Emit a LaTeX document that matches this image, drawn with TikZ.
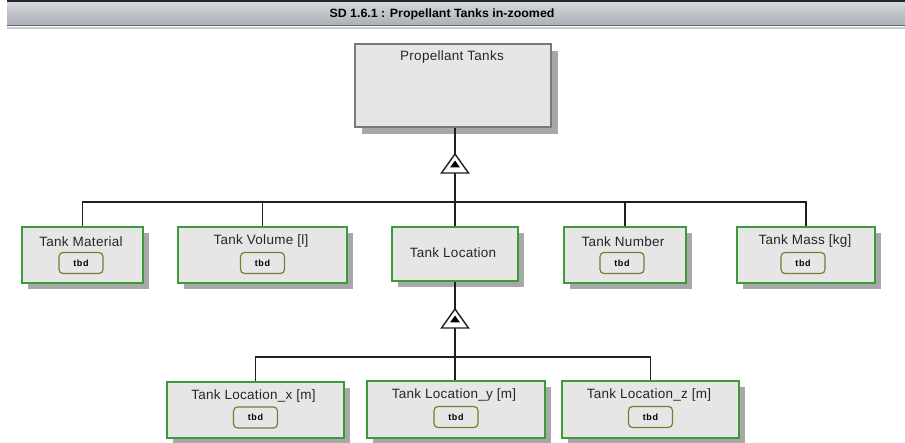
\documentclass[tikz,border=0pt]{standalone}
\usepackage{fontspec}
\setmainfont{Liberation Sans}
\usetikzlibrary{shadows}
\definecolor{boxfill}{HTML}{E6E6E6}
\definecolor{objgreen}{HTML}{3C9A3C}
\definecolor{valolive}{HTML}{7E7A2E}
\definecolor{shadowgray}{HTML}{A8A8A8}
\definecolor{bartop}{HTML}{D6D9DE}
\definecolor{barbot}{HTML}{A9ADB5}
\definecolor{barband}{HTML}{C9CCD2}
\tikzset{
  objbox/.style={rectangle, draw=objgreen, line width=1.8pt, fill=boxfill,
    inner sep=0pt, drop shadow={shadow xshift=6pt, shadow yshift=-6pt,
    fill=shadowgray, opacity=1}},
  topbox/.style={rectangle, draw=gray!95!black, line width=2.6pt, fill=boxfill,
    inner sep=0pt, drop shadow={shadow xshift=7pt, shadow yshift=-7pt,
    fill=shadowgray, opacity=1}},
  lbl/.style={font=\fontsize{13.5}{16}\selectfont\addfontfeatures{LetterSpace=2}, text=black!85, inner sep=0pt},
  valbox/.style={rectangle, rounded corners=4pt, draw=valolive, line width=1.2pt,
    fill=boxfill, minimum width=44pt, minimum height=21pt, inner sep=0pt,
    font=\bfseries\fontsize{9}{10}\selectfont\addfontfeatures{LetterSpace=8}},
  link/.style={draw=black!88, line width=1.3pt},
  gentri/.style={draw=black!88, line width=1.4pt, fill=white, line join=miter},
}
\newcommand{\objat}[6]{% name, x1, y1, x2, y2, style
  \node[#6, minimum width={#4-#2}, minimum height={#5-#3}] (#1) at ({(#2+#4)/2},{(#3+#5)/2}) {};}
\begin{document}
\begin{tikzpicture}[x=1pt, y=-1pt]
\useasboundingbox (0,0) rectangle (905,443);
\fill[white] (0,0) rectangle (905,443);

% title bar
\shade[top color=bartop, bottom color=barbot] (7,1) rectangle (905,26);
\draw[black!85, line width=1.6pt] (7,1) -- (905,1);
\draw[gray!80!black, line width=1pt] (7,26) -- (905,26);
\fill[barband] (7,27) rectangle (905,29.5);
\node[inner sep=0pt] (title) at (442,14)
  {\resizebox{225pt}{\height}{\bfseries\fontsize{12}{14}\selectfont SD 1.6.1 : Propellant Tanks in-zoomed}};

% objects
\objat{pt}{355}{44}{551}{127}{topbox}
\node[lbl] (ptl) at (452,57) {Propellant Tanks};

\objat{tm}{22}{227}{143}{283}{objbox}
\objat{tv}{178}{227}{347}{283}{objbox}
\objat{tl}{392}{227}{518}{281}{objbox}
\objat{tn}{564}{227}{686}{283}{objbox}
\objat{tk}{737}{227}{875}{283}{objbox}

\node[lbl] (tml) at (81,241.5) {Tank Material};
\node[valbox] (tmv) at (81,263) {tbd};
\node[lbl] (tvl) at (261,241.5) {Tank Volume [l]};
\node[valbox] (tvv) at (262.5,263) {tbd};
\node[lbl] (tll) at (453,253) {Tank Location};
\node[lbl] (tnl) at (623,241.5) {Tank Number};
\node[valbox] (tnv) at (622,263) {tbd};
\node[lbl] (tkl) at (805,241.5) {Tank Mass [kg]};
\node[valbox] (tkv) at (803,263) {tbd};

\objat{lx}{167}{382}{344}{438}{objbox}
\objat{ly}{367}{381}{545}{438}{objbox}
\objat{lz}{562}{381}{739}{438}{objbox}

\node[lbl] (lxl) at (253.5,396) {Tank Location\_x [m]};
\node[valbox] (lxv) at (255.5,417.5) {tbd};
\node[lbl] (lyl) at (454,395) {Tank Location\_y [m]};
\node[valbox] (lyv) at (456,417) {tbd};
\node[lbl] (lzl) at (649,395) {Tank Location\_z [m]};
\node[valbox] (lzv) at (650.5,417) {tbd};

% generalization: Propellant Tanks
\coordinate (g1) at (455,154);
\coordinate (g1b) at (455,173);
\coordinate (j1) at (455,202);
\draw[link] (pt.south -| g1) -- (g1);
\draw[link] (g1b) -- (j1);
\draw[link] (j1) -| (tm.north);
\draw[link] (j1) -| (tv.north);
\draw[link] (j1) -- (tl.north);
\draw[link] (j1) -| (tn.north);
\draw[link] (j1) -| (tk.north);
\draw[gentri] (g1) -- ++(13.5,19) -- ++(-27,0) -- cycle;
\fill[black] (455,160.5) -- ++(5,7) -- ++(-10,0) -- cycle;

% generalization: Tank Location
\coordinate (g2) at (455,309);
\coordinate (g2b) at (455,328);
\coordinate (j2) at (455,357);
\draw[link] (tl.south) -- (g2);
\draw[link] (g2b) -- (j2);
\draw[link] (j2) -| (lx.north);
\draw[link] (j2) -- (ly.north -| j2);
\draw[link] (j2) -| (lz.north);
\draw[gentri] (g2) -- ++(13.5,19) -- ++(-27,0) -- cycle;
\fill[black] (455,315.5) -- ++(5,7) -- ++(-10,0) -- cycle;
\end{tikzpicture}
\end{document}
